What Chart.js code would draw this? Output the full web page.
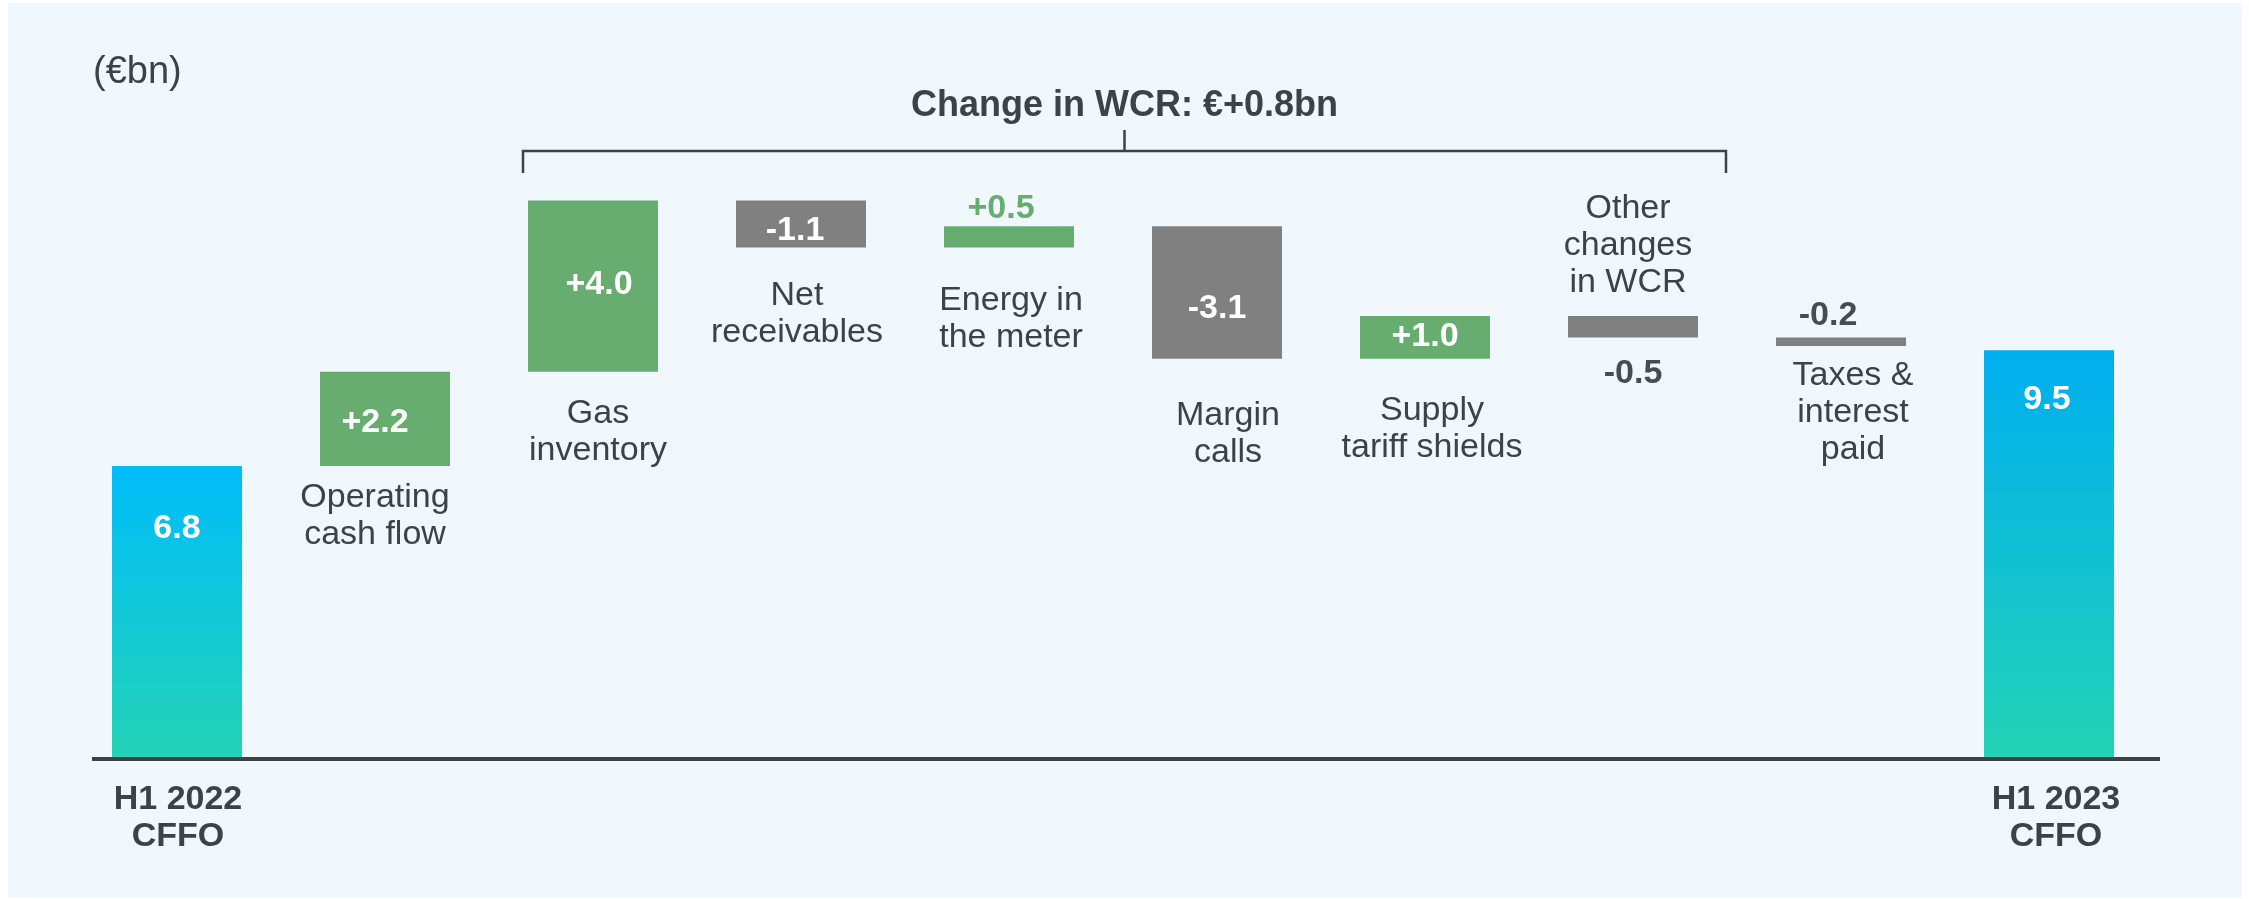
<!DOCTYPE html>
<html>
<head>
<meta charset="utf-8">
<script src="https://cdn.jsdelivr.net/npm/chart.js@4/dist/chart.umd.min.js"></script>
<style>
  html, body { margin: 0; padding: 0; background: #fff; }
  canvas { display: block; }
</style>
</head>
<body>
<canvas id="cffo" width="2249" height="899"></canvas>
<script>
// ── Data (€bn) ─────────────────────────────────────────
const categories = [
  ['H1 2022', 'CFFO'],
  ['Operating', 'cash flow'],
  ['Gas', 'inventory'],
  ['Net', 'receivables'],
  ['Energy in', 'the meter'],
  ['Margin', 'calls'],
  ['Supply', 'tariff shields'],
  ['Other', 'changes', 'in WCR'],
  ['Taxes &', 'interest', 'paid'],
  ['H1 2023', 'CFFO'],
];
const openingCffo = 6.8;
const movements   = [2.2, 4.0, -1.1, 0.5, -3.1, 1.0, -0.5, -0.2];
const closingCffo = 9.5;
const wcrFirst = 2, wcrLast = 7;   // category indexes grouped under the WCR bracket

// ── Colours / fonts ────────────────────────────────────
const INK    = '#3d4247';
const GREEN  = '#67ad6f';
const GREY   = '#808080';
const PANEL  = '#f0f8fe';
const TOTAL_TOPS = ['#00bdfa', '#00aeef'];
const TOTAL_BOTTOM = '#23d3b6';
const FAMILY = '"Liberation Sans", Arial, sans-serif';

// label placement: anchor + offsets in px
const valueAnchor = ['top', 'mid', 'mid', 'mid', 'above', 'mid', 'mid', 'below', 'above', 'top'];
const valueDy     = [63, 4, -1, 7, -18, 16, -1, 36, -22, 49];
const valueDx     = [0, -10, 6, -6, -8, 0, 0, 0, -13, -2];
const catAnchor   = ['axis', 'below', 'below', 'below', 'below', 'below', 'below', 'above', 'below', 'axis'];
const catDy       = [43, 32, 42, 48, 53, 57, 52, -33, 30, 43];
const catDx       = [1, -10, 5, -4, 2, 11, 7, -5, 12, 7];
const LINE_H = 37;

// floating bars built from the running total
const values = [openingCffo, ...movements, closingCffo];
const bars = [[0, openingCffo]];
let running = openingCffo;
movements.forEach(m => {
  const next = Math.round((running + m) * 10) / 10;
  bars.push([running, next]);
  running = next;
});
bars.push([0, closingCffo]);

const isTotal = i => i === 0 || i === values.length - 1;
const fmt = (v, signed) => (signed && v > 0 ? '+' : '') + v.toFixed(1);
const wcrTotal = movements.slice(wcrFirst - 1, wcrLast).reduce((a, b) => a + b, 0);

function barColour(c) {
  const i = c.dataIndex;
  if (!isTotal(i)) return values[i] >= 0 ? GREEN : GREY;
  const { chart } = c;
  if (!chart.chartArea) return TOTAL_BOTTOM;
  const yScale = chart.scales.y;
  const top = yScale.getPixelForValue(bars[i][1]);
  const bottom = yScale.getPixelForValue(bars[i][0]);
  const g = chart.ctx.createLinearGradient(0, top, 0, bottom);
  g.addColorStop(0, TOTAL_TOPS[i === 0 ? 0 : 1]);
  g.addColorStop(1, TOTAL_BOTTOM);
  return g;
}

const annotate = {
  id: 'annotate',
  beforeDraw(chart) {
    const { ctx, width, height } = chart;
    ctx.save();
    ctx.fillStyle = '#ffffff';
    ctx.fillRect(0, 0, width, height);
    ctx.fillStyle = PANEL;
    ctx.fillRect(8, 3, width - 15, height - 4);
    ctx.restore();
  },
  afterDatasetsDraw(chart) {
    const { ctx, chartArea, scales: { y } } = chart;
    const els = chart.getDatasetMeta(0).data;
    const y0 = y.getPixelForValue(0);
    ctx.save();

    // baseline
    ctx.fillStyle = INK;
    ctx.fillRect(chartArea.left + 19, y0, chartArea.right - chartArea.left - 12, 4);

    ctx.textAlign = 'center';
    ctx.textBaseline = 'middle';

    // value labels
    els.forEach((el, i) => {
      const top = Math.min(el.y, el.base), bottom = Math.max(el.y, el.base);
      let cy;
      switch (valueAnchor[i]) {
        case 'top':   cy = top; break;
        case 'mid':   cy = (top + bottom) / 2; break;
        case 'above': cy = top; break;
        case 'below': cy = bottom; break;
      }
      const inside = valueAnchor[i] === 'top' || valueAnchor[i] === 'mid';
      ctx.fillStyle = inside ? '#ffffff' : (values[i] >= 0 ? GREEN : '#464c53');
      ctx.font = 'bold 34px ' + FAMILY;
      ctx.fillText(fmt(values[i], !isTotal(i)), el.x + valueDx[i], cy + valueDy[i]);
    });

    // category labels
    els.forEach((el, i) => {
      const lines = categories[i];
      const top = Math.min(el.y, el.base), bottom = Math.max(el.y, el.base);
      let first;
      if (catAnchor[i] === 'axis') first = y0 + catDy[i];
      else if (catAnchor[i] === 'below') first = bottom + catDy[i];
      else first = top + catDy[i] - (lines.length - 1) * LINE_H;
      ctx.fillStyle = INK;
      ctx.font = (isTotal(i) ? 'bold ' : '') + '34px ' + FAMILY;
      lines.forEach((t, k) => ctx.fillText(t, el.x + catDx[i], first + k * LINE_H));
    });

    // WCR bracket with its total
    const half = els[wcrFirst].width / 2;
    const bl = els[wcrFirst].x - half - 5;
    const br = els[wcrLast].x + half + 28;
    const by = 151, mid = (bl + br) / 2;
    ctx.strokeStyle = INK;
    ctx.lineWidth = 2.5;
    ctx.beginPath();
    ctx.moveTo(bl, 173); ctx.lineTo(bl, by); ctx.lineTo(br, by); ctx.lineTo(br, 173);
    ctx.moveTo(mid, by); ctx.lineTo(mid, 130);
    ctx.stroke();
    ctx.font = 'bold 36px ' + FAMILY;
    ctx.fillText('Change in WCR: €' + fmt(wcrTotal, true) + 'bn', mid, 106);

    // unit
    ctx.textAlign = 'left';
    ctx.font = '38px ' + FAMILY;
    ctx.fillText('(€bn)', 93, 73);
    ctx.restore();
  }
};

new Chart(document.getElementById('cffo'), {
  type: 'bar',
  data: {
    labels: categories,
    datasets: [{
      data: bars,
      backgroundColor: barColour,
      borderWidth: 0,
      borderSkipped: false,
      categoryPercentage: 1,
      barPercentage: 0.625,
    }]
  },
  options: {
    responsive: false,
    animation: false,
    layout: { padding: { top: 72, bottom: 142, left: 73, right: 96 } },
    plugins: { legend: { display: false }, tooltip: { enabled: false } },
    scales: {
      x: { display: false },
      y: { display: false, min: 0, max: 16 },
    }
  },
  plugins: [annotate]
});
</script>
</body>
</html>
